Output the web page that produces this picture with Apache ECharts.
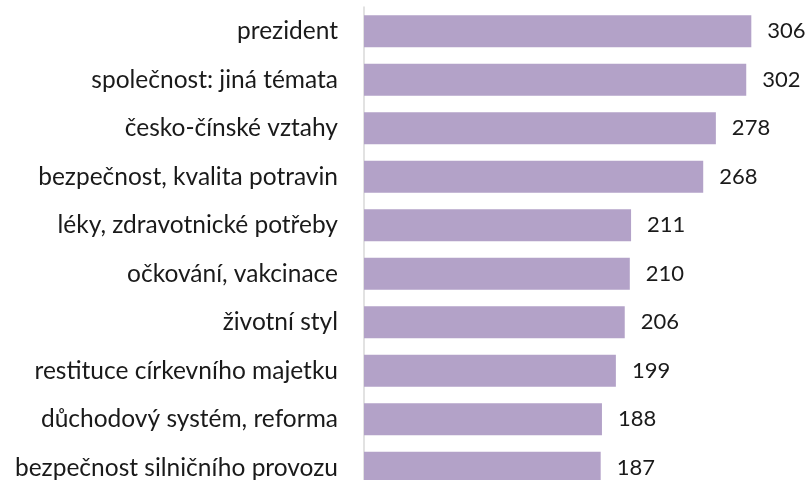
<!DOCTYPE html>
<html>
<head>
    <meta charset="utf-8">
    <title>Témata</title>
    <script src="https://cdn.jsdelivr.net/npm/echarts@6/dist/echarts.min.js"></script>
    <style>
        html, body { margin: 0; padding: 0; background: #fff; }
        #chart { width: 808px; height: 480px; }
    </style>
</head>
<body>
<div id="chart"></div>
<script type="text/javascript">
    // data (top to bottom)
    var categories = [
        "prezident",
        "společnost: jiná témata",
        "česko-čínské vztahy",
        "bezpečnost, kvalita potravin",
        "léky, zdravotnické potřeby",
        "očkování, vakcinace",
        "životní styl",
        "restituce církevního majetku",
        "důchodový systém, reforma",
        "bezpečnost silničního provozu"
    ];
    var counts = [306, 302, 278, 268, 211, 210, 206, 199, 188, 187];

    var myChart = echarts.init(document.getElementById("chart"));
    var option = {
        animation: false,
        grid: {
            left: 364, width: 443, top: 7, height: 485,
            containLabel: false,
            outerBoundsMode: "none"
        },
        xAxis: {
            type: "value",
            min: 0,
            max: 350,
            show: false
        },
        yAxis: {
            type: "category",
            inverse: true,
            data: categories,
            axisLine: { show: true, lineStyle: { color: "#d9d9d9", width: 1.5 } },
            axisTick: { show: false },
            axisLabel: {
                color: "#1a1a1a",
                fontFamily: "Lato",
                fontSize: 24.5,
                margin: 26
            }
        },
        series: [{
            type: "bar",
            data: counts,
            barCategoryGap: "34%",
            itemStyle: { color: "#b3a2c8" },
            label: {
                show: true,
                position: "right",
                distance: 16,
                color: "#1a1a1a",
                fontFamily: "Lato",
                fontSize: 22
            }
        }]
    };
    myChart.setOption(option);
</script>
</body>
</html>
